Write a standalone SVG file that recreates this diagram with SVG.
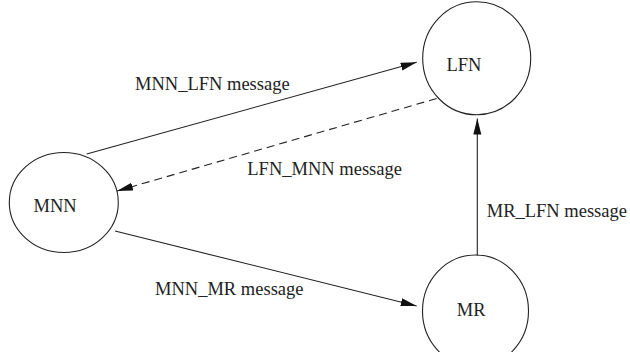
<svg xmlns="http://www.w3.org/2000/svg" width="630" height="352" viewBox="0 0 630 352">
  <style>
    .node { fill: none; stroke: #222; stroke-width: 1.1; }
    .label { font-family: 'Times New Roman', 'Liberation Serif', 'Tinos', 'Nimbus Roman', 'DejaVu Serif', serif; font-size: 18.5px; fill: #222; }
    .edge { fill: none; stroke: #222; stroke-width: 1.1; }
    .dashed { stroke-dasharray: 8 5; }
  </style>
  <defs>
    <marker id="arrow" markerUnits="userSpaceOnUse" markerWidth="17" markerHeight="9" refX="16" refY="4" orient="auto">
      <path d="M0,0 L16,4 L0,8 z" fill="#111"/>
    </marker>
  </defs>
  <rect width="630" height="352" fill="#fff"/>

  <g id="node-mnn">
    <ellipse class="node" cx="63.8" cy="202.5" rx="54.5" ry="50"/>
    <text class="label" x="33.5" y="211.7">MNN</text>
  </g>
  <g id="node-lfn">
    <ellipse class="node" cx="476.7" cy="58.3" rx="54" ry="56.5"/>
    <text class="label" x="446.5" y="70.7">LFN</text>
  </g>
  <g id="node-mr">
    <ellipse class="node" cx="475.5" cy="311" rx="53" ry="56"/>
    <text class="label" x="456.7" y="316">MR</text>
  </g>

  <g id="connectors">
    <line class="edge" x1="86.7" y1="154" x2="416.7" y2="62.3" marker-end="url(#arrow)"/>
    <line class="edge dashed" x1="436.7" y1="98.5" x2="117" y2="191" marker-end="url(#arrow)"/>
    <line class="edge" x1="115" y1="231" x2="416.7" y2="306" marker-end="url(#arrow)"/>
    <line class="edge" x1="477.3" y1="255.5" x2="477.3" y2="118.5" marker-end="url(#arrow)"/>
  </g>

  <g id="edge-labels">
    <text class="label" x="135" y="90">MNN_LFN message</text>
    <text class="label" x="247.3" y="175">LFN_MNN message</text>
    <text class="label" x="155" y="295">MNN_MR message</text>
    <text class="label" x="486.7" y="216.7">MR_LFN message</text>
  </g>
</svg>
